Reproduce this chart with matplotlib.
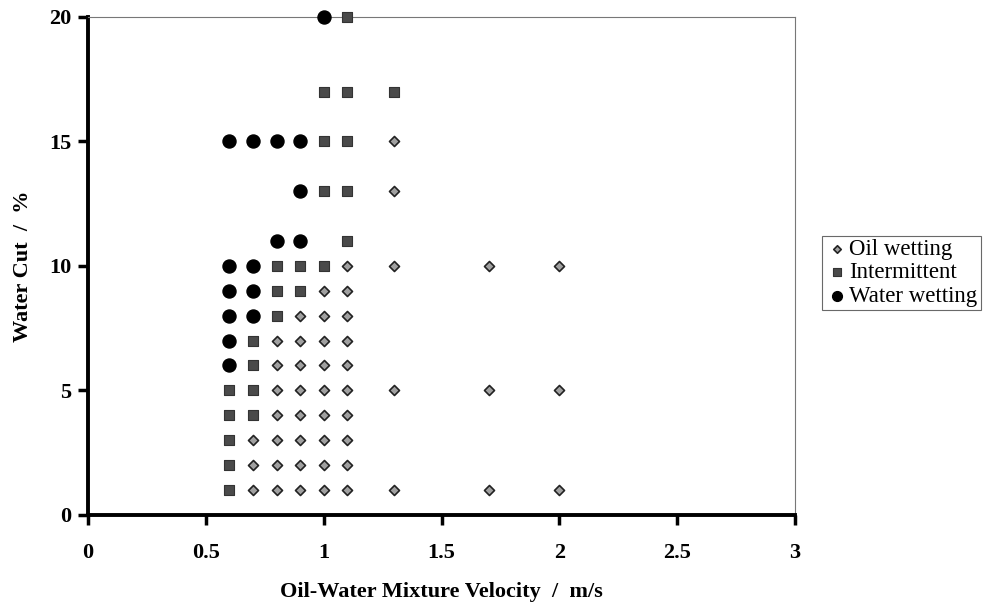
import matplotlib
matplotlib.use("Agg")
import matplotlib.pyplot as plt

# data: (velocity m/s, water cut %)
oilX = [1.3, 1.3, 1.1, 1.3, 1.7, 2.0,
		1.0, 1.1,
		0.9, 1.0, 1.1,
		0.8, 0.9, 1.0, 1.1,
		0.8, 0.9, 1.0, 1.1,
		0.8, 0.9, 1.0, 1.1, 1.3, 1.7, 2.0,
		0.8, 0.9, 1.0, 1.1,
		0.7, 0.8, 0.9, 1.0, 1.1,
		0.7, 0.8, 0.9, 1.0, 1.1,
		0.7, 0.8, 0.9, 1.0, 1.1, 1.3, 1.7, 2.0]
oilY = [15, 13, 10, 10, 10, 10,
		9, 9,
		8, 8, 8,
		7, 7, 7, 7,
		6, 6, 6, 6,
		5, 5, 5, 5, 5, 5, 5,
		4, 4, 4, 4,
		3, 3, 3, 3, 3,
		2, 2, 2, 2, 2,
		1, 1, 1, 1, 1, 1, 1, 1]

interX = [1.1, 1.0, 1.1, 1.3, 1.0, 1.1, 1.0, 1.1, 1.1,
		0.8, 0.9, 1.0, 0.8, 0.9, 0.8, 0.7, 0.7,
		0.6, 0.7, 0.6, 0.7, 0.6, 0.6, 0.6]
interY = [20, 17, 17, 17, 15, 15, 13, 13, 11,
		10, 10, 10, 9, 9, 8, 7, 6,
		5, 5, 4, 4, 3, 2, 1]

waterX = [1.0, 0.6, 0.7, 0.8, 0.9, 0.9, 0.8, 0.9,
		0.6, 0.7, 0.6, 0.7, 0.6, 0.7, 0.6, 0.6]
waterY = [20, 15, 15, 15, 15, 13, 11, 11,
		10, 10, 9, 9, 8, 8, 7, 6]

xTicks = [0, 0.5, 1, 1.5, 2, 2.5, 3]
xTickLabels = ['0', '0.5', '1', '1.5', '2', '2.5', '3']
yTicks = [0, 5, 10, 15, 20]

plt.rcParams['font.family'] = ['Liberation Serif', 'DejaVu Serif']

figure = plt.figure(figsize=(9.9, 6.07), dpi=100)
ax = figure.add_axes([0.089, 0.152, 0.714, 0.820])

ax.scatter(oilX, oilY, marker='D', s=26, facecolor='#a0a0a0', edgecolor='#222222',
		linewidth=1.2, label='Oil wetting', zorder=3, clip_on=False)
ax.scatter(interX, interY, marker='s', s=62, facecolor='#4a4a4a', edgecolor='#333333',
		linewidth=0.8, label='Intermittent', zorder=3, clip_on=False)
ax.scatter(waterX, waterY, marker='o', s=88, facecolor='black', edgecolor='black',
		label='Water wetting', zorder=3, clip_on=False)

ax.set_xlim(0, 3)
ax.set_ylim(0, 20)
ax.set_xticks(xTicks)
ax.set_xticklabels(xTickLabels)
ax.set_yticks(yTicks)

for side in ['left', 'bottom']:
	ax.spines[side].set_linewidth(2.8)
	ax.spines[side].set_color('black')
for side in ['top', 'right']:
	ax.spines[side].set_linewidth(0.8)
	ax.spines[side].set_color('#777777')
	ax.spines[side].set_linestyle((0, (1, 1)))

ax.tick_params(axis='both', direction='out', length=7, width=2.5, labelsize=16, pad=5)
for label in ax.get_xticklabels() + ax.get_yticklabels():
	label.set_fontweight('bold')
ax.tick_params(axis='x', pad=13)

ax.set_xlabel('Oil-Water Mixture Velocity  /  m/s', fontsize=16, fontweight='bold', labelpad=14)
ax.set_ylabel('Water Cut  /  %', fontsize=16, fontweight='bold', labelpad=12)

legend = figure.legend(loc='upper left', bbox_to_anchor=(0.830, 0.612), fontsize=16.5,
		frameon=True, fancybox=False, edgecolor='#444444', handletextpad=0.05,
		borderpad=0.15, labelspacing=0.1, handlelength=1.0, borderaxespad=0,
		markerscale=0.75)
legend.get_frame().set_linewidth(0.8)

figure.savefig('out.png', dpi=100)
